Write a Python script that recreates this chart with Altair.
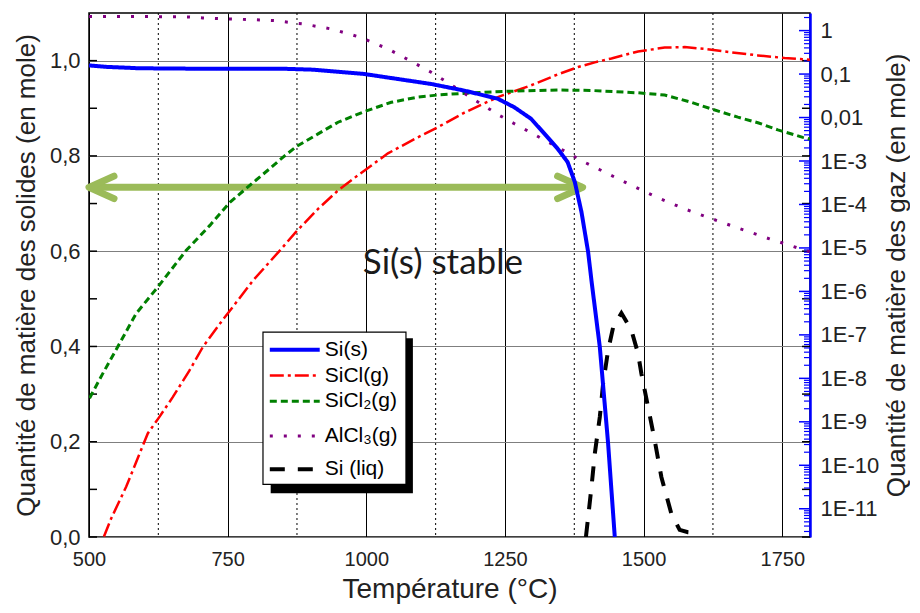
import altair as alt
import pandas as pd

# ---------------- data ----------------
series_names = ["Si(s)", "SiCl(g)", "SiCl₂(g)", "AlCl₃(g)", "Si (liq)"]

# Si(s) – left axis (mol)
T_si_s = [500, 530, 590, 700, 850, 877, 904, 996, 1117, 1177, 1237, 1267, 1297,
          1327, 1345, 1363, 1376, 1388, 1400, 1406, 1421, 1436, 1448]
si_s = [0.990, 0.987, 0.984, 0.983, 0.983, 0.982, 0.981, 0.972, 0.951, 0.937, 0.920,
        0.902, 0.878, 0.839, 0.815, 0.787, 0.745, 0.682, 0.598, 0.538, 0.399, 0.196, 0.0]

# Si (liq) – left axis (mol)
T_si_liq = [1396, 1406, 1412, 1421, 1427, 1436, 1445, 1460, 1478, 1490, 1496, 1508,
            1520, 1532, 1550, 1565, 1580, 1600]
si_liq = [0.0, 0.105, 0.175, 0.252, 0.322, 0.392, 0.44, 0.47, 0.434, 0.385, 0.343,
          0.273, 0.203, 0.126, 0.049, 0.015, 0.01, 0.008]

# SiCl(g) – right axis (log, mol)
T_sicl = [527, 540, 567, 606, 627, 651, 681, 705, 742, 754, 796, 844, 874, 913, 949,
          985, 1039, 1087, 1129, 1177, 1237, 1297, 1345, 1382, 1412, 1442, 1490, 1538,
          1574, 1610, 1658, 1706, 1754, 1800]
sicl = [2.3e-12, 6.0e-12, 3.2e-11, 5.4e-10, 1.3e-9, 3.7e-9, 1.5e-8, 5.2e-8, 2.3e-7,
        3.6e-7, 1.8e-6, 8.7e-6, 2.4e-5, 7.9e-5, 2.1e-4, 4.7e-4, 1.5e-3, 3.2e-3, 6.0e-3,
        1.3e-2, 2.95e-2, 5.5e-2, 9.8e-2, 0.145, 0.186, 0.229, 0.331, 0.407, 0.417,
        0.380, 0.316, 0.269, 0.234, 0.214]

# SiCl2(g) – right axis
T_sicl2 = [501, 525, 555, 585, 624, 675, 718, 754, 796, 829, 850, 875, 913, 949, 997,
           1045, 1093, 1129, 1189, 1249, 1345, 1405, 1490, 1538, 1586, 1622, 1670,
           1706, 1742, 1787, 1800]
sicl2 = [3.5e-9, 1.3e-8, 6.3e-8, 3.1e-7, 1.26e-6, 8.7e-6, 3.3e-5, 1.12e-4, 3.2e-4,
         7.2e-4, 1.23e-3, 2.2e-3, 4.2e-3, 7.8e-3, 1.38e-2, 2.24e-2, 2.95e-2, 3.3e-2,
         3.7e-2, 4.0e-2, 4.3e-2, 4.2e-2, 3.7e-2, 3.3e-2, 2.24e-2, 1.58e-2, 1.02e-2,
         7.6e-3, 5.2e-3, 3.5e-3, 3.2e-3]

# AlCl3(g) – right axis
T_alcl3 = [500, 600, 680, 705, 756, 808, 834, 860, 885, 937, 988, 1039, 1090, 1117,
           1141, 1192, 1240, 1267, 1318, 1370, 1394, 1421, 1472, 1523, 1574, 1625,
           1676, 1727, 1778, 1800]
alcl3 = [2.10, 2.10, 2.06, 1.95, 1.85, 1.76, 1.70, 1.55, 1.43, 1.09, 0.71, 0.38, 0.17,
         0.11, 0.071, 0.027, 0.0112, 0.0072, 3.2e-3, 1.38e-3, 9.3e-4, 6.3e-4, 3.0e-4,
         1.48e-4, 7.9e-5, 4.6e-5, 2.7e-5, 1.62e-5, 1.0e-5, 8.1e-6]

# axis ticks
x_ticks = [500, 750, 1000, 1250, 1500, 1750]
x_minor = [625, 875, 1125, 1375, 1625]
yl_ticks = [0.0, 0.2, 0.4, 0.6, 0.8, 1.0]
yl_minor = [0.1, 0.3, 0.5, 0.7, 0.9]
yr_ticks = [1, 0.1, 0.01, 1e-3, 1e-4, 1e-5, 1e-6, 1e-7, 1e-8, 1e-9, 1e-10, 1e-11]
yr_minor = [k * d for d in [1e-12] + yr_ticks[::-1] for k in range(2, 10)
            if 2.24e-12 < k * d < 2.54]

# annotations (placement in data units)
arrow_T = [500, 1390]
arrow_v = 0.734
label_T, label_v, label_txt = 1138, 0.576, "Si(s) stable"

# legend placement (data units)
leg_box_T = [813.7, 1071.5]
leg_box_v = [0.1105, 0.430]
leg_shadow_T = [827.6, 1084]
leg_shadow_v = [0.092, 0.417]
leg_sample_T = [826, 916]
leg_label_T = 925
leg_rows_v = [0.393, 0.339, 0.285, 0.212, 0.142]

# ---------------- styling ----------------
W, H = 721, 524
FONT = "Arial, Liberation Sans"
colors = ["#0000ff", "#ff0000", "#008000", "#800080", "#000000"]
dashes = [[1, 0], [14, 4, 3, 4], [7, 4], [3, 11], [15, 13]]
widths = [4, 2.5, 3, 3, 4]
wmap = dict(zip(series_names, widths))

x_scale = alt.Scale(domain=[500, 1800], nice=False, zero=False)
yl_scale = alt.Scale(domain=[0, 1.1], nice=False, zero=False)
yr_scale = alt.Scale(type="log", domain=[2.24e-12, 2.54], nice=False)

x_axis = alt.Axis(values=x_ticks, format="d", title="Température (°C)", grid=True,
                  gridColor="#000000", gridWidth=1, gridOpacity=1, ticks=False,
                  domain=False, labelFont=FONT, labelFontSize=20, labelColor="#222222",
                  labelPadding=12, labelFlush=False, titleFont=FONT, titleFontSize=28,
                  titleFontWeight="normal", titleColor="#222222", titlePadding=6)
yl_axis = alt.Axis(values=yl_ticks, orient="left",
                   title="Quantité de matière des solides (en mole)", grid=True,
                   gridColor="#7f7f7f", gridWidth=1.2, gridOpacity=1, ticks=False,
                   domain=False,
                   labelExpr="replace(format(datum.value, '.1f'), '.', ',')",
                   labelFont=FONT, labelFontSize=22, labelColor="#222222",
                   labelPadding=9, labelFlush=False, titleFont=FONT, titleFontSize=26,
                   titleFontWeight="normal", titleColor="#222222", titlePadding=10)
yr_axis = alt.Axis(values=yr_ticks, orient="right",
                   title="Quantité de matière des gaz (en mole)", grid=False,
                   ticks=False, domain=True, domainColor="#0000ff", domainWidth=2.5,
                   labelExpr="datum.value >= 0.01 ? replace(format(datum.value, '~g'), '.', ',') : '1E' + round(log(datum.value) / LN10)",
                   labelFont=FONT, labelFontSize=22, labelColor="#222222",
                   labelPadding=10, labelFlush=False, titleFont=FONT, titleFontSize=26,
                   titleFontWeight="normal", titleColor="#222222", titleAngle=270,
                   titlePadding=31)

X = alt.X("T:Q", scale=x_scale, axis=x_axis)
color_enc = alt.Color("series:N", scale=alt.Scale(domain=series_names, range=colors),
                      legend=None)
dash_enc = alt.StrokeDash("series:N",
                          scale=alt.Scale(domain=series_names, range=dashes),
                          legend=None)


def YL(field="v"):
    return alt.Y(f"{field}:Q", scale=yl_scale, axis=None)


def line_layer(T, vals, name, yscale, axis=None):
    df = pd.DataFrame({"T": T, "v": vals, "series": name})
    return alt.Chart(df).mark_line(clip=True, strokeWidth=wmap[name],
                                   strokeCap="butt").encode(
        x=X,
        y=alt.Y("v:Q", scale=yscale, axis=axis),
        color=color_enc,
        strokeDash=dash_enc,
    )


# grid / tick decorations
minor_grid = alt.Chart(pd.DataFrame({"T": x_minor})).mark_rule(
    color="#000000", strokeWidth=1, strokeDash=[2, 3]).encode(
    x=X, y=alt.value(0), y2=alt.value(H))

yl_tick_df = pd.DataFrame({"v": yl_ticks + yl_minor})
left_ticks = alt.Chart(yl_tick_df).mark_rule(color="#000000", strokeWidth=1.5).encode(
    y=YL(), x=alt.value(0), x2=alt.value(8))
left_ticks_r = alt.Chart(yl_tick_df).mark_rule(color="#000000", strokeWidth=1.5).encode(
    y=YL(), x=alt.value(W), x2=alt.value(W - 8))

right_major = alt.Chart(pd.DataFrame({"g": yr_ticks})).mark_rule(
    color="#0000ff", strokeWidth=1.5).encode(
    y=alt.Y("g:Q", scale=yr_scale, axis=None), x=alt.value(W), x2=alt.value(W - 11))
right_minor = alt.Chart(pd.DataFrame({"g": yr_minor})).mark_rule(
    color="#0000ff", strokeWidth=1.2).encode(
    y=alt.Y("g:Q", scale=yr_scale, axis=None), x=alt.value(W), x2=alt.value(W - 6))

# green arrow
arrow_df = pd.DataFrame({"T": arrow_T, "v": [arrow_v, arrow_v],
                         "shape": ["M 1 -0.45 L 0 0 L 1 0.45",
                                   "M -1 -0.45 L 0 0 L -1 0.45"]})
ARROW = "#9bbb59"
shaft = alt.Chart(arrow_df).mark_line(color=ARROW, strokeWidth=7).encode(
    x=X, y=YL())
heads = alt.Chart(arrow_df).mark_point(
    color=ARROW, filled=False, strokeWidth=7, size=2500, opacity=1,
    strokeCap="round", strokeJoin="round").encode(
    x=X, y=YL(), shape=alt.Shape("shape:N", scale=None))

label = alt.Chart(pd.DataFrame({"T": [label_T], "v": [label_v], "t": [label_txt]})).mark_text(
    font="Lato", fontSize=35, color="#1a1a1a").encode(
    x=X, y=YL(), text="t:N")

# manual legend
shadow = alt.Chart(pd.DataFrame({"T": [leg_shadow_T[0]], "T2": [leg_shadow_T[1]],
                                 "v": [leg_shadow_v[0]], "v2": [leg_shadow_v[1]]})).mark_rect(
    color="#000000").encode(x=X, x2="T2:Q", y=YL(), y2="v2:Q")
box = alt.Chart(pd.DataFrame({"T": [leg_box_T[0]], "T2": [leg_box_T[1]],
                              "v": [leg_box_v[0]], "v2": [leg_box_v[1]]})).mark_rect(
    fill="#ffffff", stroke="#000000", strokeWidth=1.2).encode(
    x=X, x2="T2:Q", y=YL(), y2="v2:Q")
leg_df = pd.DataFrame({"T": [leg_sample_T[0]] * 5, "T2": [leg_sample_T[1]] * 5,
                       "v": leg_rows_v, "series": series_names, "w": widths,
                       "lt": [leg_label_T] * 5})
leg_lines = alt.Chart(leg_df).mark_rule(strokeCap="butt").encode(
    x=X, x2="T2:Q", y=YL(), color=color_enc, strokeDash=dash_enc,
    strokeWidth=alt.StrokeWidth("w:Q", scale=None))
leg_text = alt.Chart(leg_df).mark_text(
    align="left", baseline="middle", font=FONT, fontSize=21, color="#000000").encode(
    x=alt.X("lt:Q", scale=x_scale, axis=x_axis), y=YL(), text="series:N")

red = line_layer(T_sicl, sicl, "SiCl(g)", yr_scale, yr_axis)
green = line_layer(T_sicl2, sicl2, "SiCl₂(g)", yr_scale)
purple = line_layer(T_alcl3, alcl3, "AlCl₃(g)", yr_scale)
black = line_layer(T_si_liq, si_liq, "Si (liq)", yl_scale)
blue = line_layer(T_si_s, si_s, "Si(s)", yl_scale, yl_axis)

chart = alt.layer(
    minor_grid, left_ticks, left_ticks_r, right_minor, right_major,
    shaft, heads, label,
    red, green, purple, black, blue,
    shadow, box, leg_lines, leg_text,
).resolve_scale(y="independent").properties(
    width=W, height=H,
    padding={"left": 5, "top": 4, "right": 0, "bottom": 4},
    background="white",
).configure_view(stroke="#000000", strokeWidth=1.5)

chart.save("out.html", embed_options={"renderer": "svg", "actions": False})
